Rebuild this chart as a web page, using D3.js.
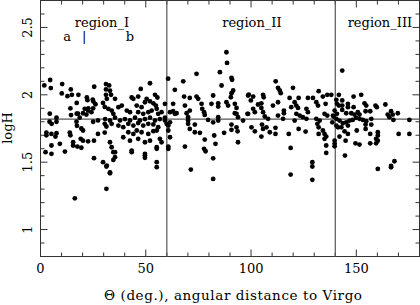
<!DOCTYPE html>
<html>
<head>
<meta charset="utf-8">
<script src="https://cdn.jsdelivr.net/npm/d3@7"></script>
<style>
  body { margin: 0; background: #fff; }
  text { font-family: "DejaVu Serif", serif; fill: #000; }
</style>
</head>
<body>
<div id="chart"></div>
<script>
// angular distance to Virgo (deg.) and logH
var regionI = [
  [1.8,2.07],[4.6,2.11],[4.9,2.05],[10.3,2.08],[10.1,2.01],[14.4,2.04],[14.9,2.0],[12.8,1.99],[18,2.0],[17.2,1.94],
  [25.5,2.06],[24.8,1.965],[22,1.98],[22.3,1.96],[22.7,1.90],[31.1,2.08],[31.1,2.04],[31.1,2.0],
  [14.2,1.9],[14.5,1.85],[17.2,1.86],[25.1,1.95],[26.1,1.93],[25,1.90],[29.7,1.94],[30.5,1.91],[21,1.896],[22.6,1.883],
  [24.2,1.871],[20.2,1.863],[21.8,1.853],[17.8,1.86],[18.6,1.83],[4.4,1.86],[7.6,1.83],[4.3,1.80],[5.3,1.785],[7.6,1.80],
  [17.1,1.80],[17.3,1.77],[25,1.80],[27.3,1.81],[30.5,1.785],[31.3,1.765],[19.4,1.75],[20.2,1.735],[2.8,1.72],[2.8,1.70],
  [5.2,1.71],[7.6,1.715],[7.1,1.69],[13.9,1.72],[14.2,1.70],[27.3,1.71],[30.5,1.72],[19.1,1.673],[20.2,1.66],[22.6,1.655],
  [25.4,1.66],[5.2,1.624],[9.2,1.636],[15.5,1.648],[15.5,1.624],[17.5,1.616],[19.4,1.607],[2.4,1.574],[5.2,1.562],[11.6,1.579],
  [25.4,1.53],[29.7,1.50],[31.3,1.468],[31.3,1.302],[16.3,1.232],[33,1.418],[35.4,1.574],[34.6,1.517],[43.3,1.574],[49.6,1.562],
  [52,2.086],[47.6,2.044],[54.4,2.0],[55.5,1.98],[32.6,2.07],[33,2.03],[33.5,2.0],[31.5,1.97],[35.4,1.97],[43.3,1.98],
  [44.1,1.97],[46.4,1.987],[50.4,1.97],[49.6,1.945],[52,1.952],[53.6,1.937],[54.8,1.92],[37,1.908],[38.6,1.92],[41,1.883],
  [42.5,1.871],[45.7,1.92],[48,1.908],[32.2,1.896],[33.8,1.883],[34.6,1.859],[46.4,1.871],[48.8,1.859],[51.2,1.871],[52.8,1.883],
  [55.2,1.896],[55.9,1.859],[57.5,1.871],[30.7,1.82],[33,1.81],[35.4,1.83],[37.8,1.81],[40.1,1.82],[42.5,1.81],[44.9,1.83],
  [47.2,1.81],[49.6,1.82],[52,1.83],[54.4,1.81],[56.7,1.82],[59.1,1.83],[33.8,1.785],[37,1.772],[39.3,1.76],[41.7,1.785],
  [44.1,1.772],[46.4,1.79],[48.8,1.772],[51.2,1.785],[53.6,1.78],[55.9,1.76],[41.7,1.722],[44.1,1.71],[45.7,1.735],[48,1.722],
  [51.2,1.71],[53.6,1.73],[55.2,1.735],[39.3,1.685],[42.5,1.66],[46.4,1.673],[49.6,1.648],[52,1.66],[56.7,1.673],[57.5,1.648],
  [33,1.648],[33.8,1.611],[34.6,1.574],[35.4,1.537],[43.3,1.586],[49.6,1.549],[49.6,1.532],[55.2,1.611],[55.2,1.599],[55.2,1.5],
  [55.2,1.463],[31.5,1.475],[33,1.425],[59.1,1.933],[59.1,1.809]
];
var regionII = [
  [60.6,2.12],[63.8,2.037],[67.8,2.1],[74.1,2.156],[85.2,2.168],[90.7,2.126],[91,2.111],[86,2.069],[88.3,2.316],[88.6,2.237],
  [91.5,2.032],[90.7,2.012],[90.4,1.982],[98.6,1.995],[68.2,1.987],[70.9,1.977],[74.1,1.987],[74.9,1.97],[82,1.995],[88.3,1.945],
  [89.1,1.92],[84.4,1.937],[84.4,1.913],[81.2,1.933],[76.5,1.933],[76.8,1.896],[77.7,1.871],[92.3,1.933],[93.1,1.903],[92.3,1.863],
  [68.6,1.92],[63,1.933],[70.9,1.883],[69.4,1.863],[61.5,1.871],[63,1.878],[63.8,1.859],[64.6,1.863],[78,1.851],[79.6,1.814],
  [82,1.796],[84.4,1.834],[84.4,1.809],[70.1,1.834],[70.1,1.809],[70.1,1.785],[93.1,1.859],[93.8,1.834],[96.2,1.809],[98.3,1.859],
  [59.9,1.785],[60.7,1.772],[61.5,1.796],[73.3,1.779],[70.9,1.747],[73.3,1.722],[75.7,1.718],[90.7,1.779],[90.7,1.74],[93.1,1.759],
  [93.6,1.729],[87.2,1.718],[60.7,1.735],[61.5,1.685],[78,1.668],[82.5,1.698],[83.1,1.636],[60.7,1.616],[60.7,1.599],[68.6,1.616],
  [77.7,1.599],[78.4,1.581],[93.8,1.648],[82,1.529],[71.4,1.445],[82,1.376],
  [111.7,2.1],[112.8,2.052],[113.6,2.032],[114.1,2.012],[119.9,2.052],[98.9,2.002],[101,1.987],[105.7,2.0],[106,1.982],[99.9,1.958],
  [118.3,1.977],[122.6,1.977],[127,1.977],[129.4,1.977],[132.1,2.027],[134.1,1.987],[136.2,2.0],[138.1,2.0],[112.8,1.945],[103.3,1.928],
  [104.9,1.937],[110.4,1.92],[120.7,1.945],[121.5,1.92],[122.3,1.903],[119.1,1.908],[131,1.945],[131.8,1.92],[135.4,1.933],[101,1.896],
  [101.8,1.871],[98.6,1.859],[104.9,1.903],[105.7,1.871],[115.6,1.883],[115.6,1.863],[126.3,1.896],[127,1.871],[121.5,1.859],[123.1,1.846],
  [134.9,1.859],[136.2,1.846],[138.9,1.846],[106.5,1.839],[108.1,1.822],[112.8,1.846],[115.2,1.822],[120.7,1.809],[124.6,1.834],[126.3,1.822],
  [131,1.822],[132.6,1.809],[100.2,1.759],[101.8,1.729],[105.2,1.779],[105.7,1.747],[107.3,1.759],[108.9,1.722],[111.6,1.755],[111.6,1.71],
  [104.9,1.69],[117.9,1.71],[122.6,1.747],[125.9,1.727],[131.5,1.785],[132.1,1.759],[132.1,1.71],[134.1,1.735],[134.9,1.71],[135.7,1.69],
  [134.9,1.673],[135.7,1.624],[135.7,1.569],[118.8,1.606],[129.1,1.5],[129.1,1.468],[129.1,1.369],[118.8,1.408]
];
var regionIII = [
  [143.3,2.18],[141.7,2.0],[152.3,2.0],[148.7,1.987],[140.5,1.963],[143.3,1.958],[153.9,1.937],[154.7,1.92],[159.1,1.92],[159.7,1.908],
  [163.8,1.928],[140.8,1.933],[141.7,1.92],[143.3,1.92],[146,1.933],[146,1.908],[148.7,1.908],[139.7,1.883],[140.8,1.859],[143.3,1.888],
  [145.2,1.863],[147.6,1.863],[149.1,1.853],[150.7,1.871],[151.5,1.853],[154.4,1.878],[156.6,1.878],[166.5,1.878],[167.3,1.853],[169.7,1.863],
  [164.9,1.853],[165.7,1.834],[167.6,1.814],[175.2,1.814],[175.2,1.71],[170.1,1.71],[139.2,1.839],[140.5,1.822],[138.6,1.796],[142,1.809],
  [143.6,1.789],[145.2,1.796],[146,1.772],[140.5,1.772],[141.3,1.759],[142.9,1.759],[146.8,1.809],[148.3,1.814],[149.9,1.829],[151.5,1.822],
  [153.1,1.814],[154.7,1.804],[157.1,1.822],[157.1,1.779],[154.4,1.779],[154.4,1.747],[150.2,1.735],[144.4,1.729],[146,1.71],[144.9,1.66],
  [142,1.69],[160.2,1.722],[160.2,1.698],[159.4,1.673],[160.2,1.66],[156.6,1.71],[156.6,1.64],[159.4,1.64],[139.7,1.66],[139.7,1.636],
  [139.7,1.618],[149.6,1.64],[151.5,1.631],[144.6,1.549],[160.2,1.45],[166.5,1.462],[166.5,1.472],[168.1,1.507]
];

var xTicks = [0, 50, 100, 150];
var yTicks = [1, 1.5, 2, 2.5];
var yTickLabels = ["1", "1.5", "2", "2.5"];
var regionBounds = [60, 140];
var meanLogH = 1.82;
var regionLabels = [
  { text: "region_I", x: 29.2, y: 2.503 },
  { text: "region_II", x: 100.4, y: 2.503 },
  { text: "region_III", x: 161.2, y: 2.503 }
];
var subLabels = [
  { text: "a", x: 12.6, y: 2.40 },
  { text: "|", x: 20.7, y: 2.40 },
  { text: "b", x: 42.5, y: 2.40 }
];

var width = 420, height = 305;
var svg = d3.select('#chart').append('svg')
  .attr('width', width).attr('height', height);

var x = d3.scaleLinear().domain([0, 180]).range([40.5, 419.5]);
var y = d3.scaleLinear().domain([0.8, 2.7]).range([256.5, 0.5]);

var lineColor = '#333';

// minor / major ticks on all four sides, pointing in
var xMinor = d3.range(0, 181, 10);
var yMinor = d3.range(8, 28).map(d => d / 10);

var ticks = svg.append('g').attr('stroke', lineColor).attr('stroke-width', 1);
xMinor.forEach(function(t) {
  var len = (t % 50 === 0) ? 7 : 4;
  ticks.append('line').attr('x1', x(t)).attr('x2', x(t)).attr('y1', y(0.8)).attr('y2', y(0.8) - len);
  ticks.append('line').attr('x1', x(t)).attr('x2', x(t)).attr('y1', y(2.7)).attr('y2', y(2.7) + len);
});
yMinor.forEach(function(t) {
  var len = (Math.abs(t * 2 - Math.round(t * 2)) < 1e-6) ? 7 : 4;
  ticks.append('line').attr('y1', y(t)).attr('y2', y(t)).attr('x1', x(0)).attr('x2', x(0) + len);
  ticks.append('line').attr('y1', y(t)).attr('y2', y(t)).attr('x1', x(180)).attr('x2', x(180) - len);
});

// frame
svg.append('rect')
  .attr('x', x(0)).attr('y', y(2.7))
  .attr('width', x(180) - x(0)).attr('height', y(0.8) - y(2.7))
  .attr('fill', 'none').attr('stroke', lineColor).attr('stroke-width', 1);

// region boundaries and mean line
svg.selectAll('.bound').data(regionBounds).enter().append('line')
  .attr('x1', d => x(d)).attr('x2', d => x(d))
  .attr('y1', y(0.8)).attr('y2', y(2.7))
  .attr('stroke', '#555').attr('stroke-width', 1.2);
svg.append('line')
  .attr('x1', x(0)).attr('x2', x(180))
  .attr('y1', y(meanLogH)).attr('y2', y(meanLogH))
  .attr('stroke', '#555').attr('stroke-width', 1.2);

// points
var allPts = regionI.concat(regionII, regionIII);
svg.append('g').selectAll('circle').data(allPts).enter().append('circle')
  .attr('cx', d => x(d[0])).attr('cy', d => y(d[1]))
  .attr('r', 2.4).attr('fill', '#000');

// tick labels
svg.selectAll('.xl').data(xTicks).enter().append('text')
  .attr('x', d => x(d)).attr('y', 273)
  .attr('text-anchor', 'middle').style('font-size', '13px')
  .text(d => d);
svg.selectAll('.yl').data(yTicks).enter().append('text')
  .attr('transform', d => `translate(32,${y(d)}) rotate(-90)`)
  .attr('text-anchor', 'middle').style('font-size', '13px')
  .text((d, i) => yTickLabels[i]);

// axis titles
svg.append('text')
  .attr('x', 233).attr('y', 300)
  .attr('text-anchor', 'middle').style('font-size', '13.5px')
  .attr('textLength', 258).attr('lengthAdjust', 'spacing')
  .text('Θ (deg.), angular distance to Virgo');
svg.append('text')
  .attr('transform', `translate(12,128) rotate(-90)`)
  .attr('text-anchor', 'middle').style('font-size', '13px')
  .text('logH');

// annotations
svg.selectAll('.rl').data(regionLabels).enter().append('text')
  .attr('x', d => x(d.x)).attr('y', d => y(d.y))
  .attr('text-anchor', 'middle').style('font-size', '13px')
  .text(d => d.text);
svg.selectAll('.sl').data(subLabels).enter().append('text')
  .attr('x', d => x(d.x)).attr('y', d => y(d.y))
  .attr('text-anchor', 'middle').style('font-size', '13px')
  .text(d => d.text);
</script>
</body>
</html>
